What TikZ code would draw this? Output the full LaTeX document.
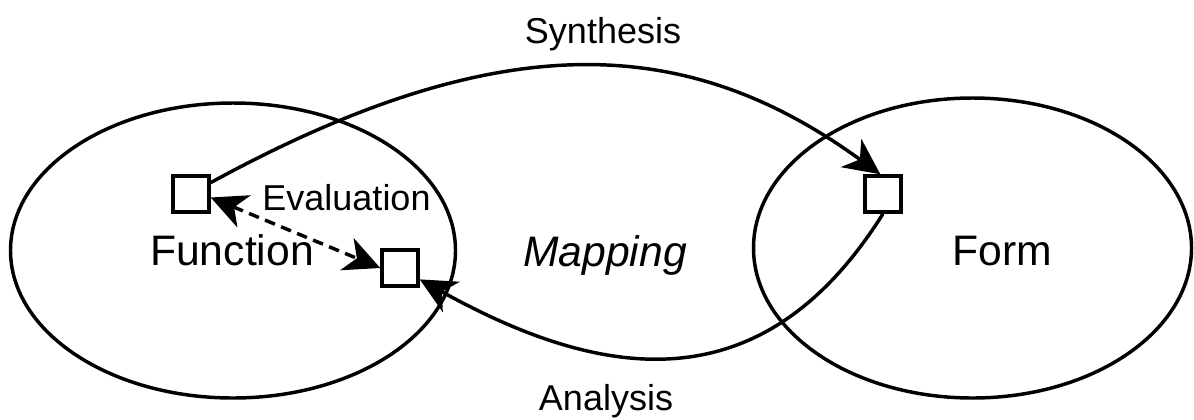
\documentclass[tikz,border=0pt]{standalone}
\usepackage{fontspec}
\setmainfont{Liberation Sans}
\usetikzlibrary{arrows.meta}

\tikzset{every picture/.style={line width=2.6pt}}
\tikzset{
  sqbox/.style={draw, fill=white, minimum size=27pt, inner sep=0pt},
  bigtxt/.style={anchor=base, inner sep=0pt, font=\fontsize{32}{38}\selectfont},
  smalltxt/.style={anchor=base, inner sep=0pt, font=\fontsize{27}{32}\selectfont},
  flowhead/.tip={Stealth[length=27pt,width=26pt,inset=8pt]},
  flowarrow/.style={-flowhead},
  evalarrow/.style={flowhead-flowhead, dash pattern=on 8pt off 5pt},
}

\begin{document}
\begin{tikzpicture}[x=0.75pt,y=0.75pt,yscale=-1,xscale=1]
\useasboundingbox (0,0) rectangle (1194,419);

%Shape: Ellipse (function space)
\draw (233,250.5) ellipse (222.5 and 147.5);
%Shape: Ellipse (form space)
\draw (972.5,248) ellipse (219 and 150);

%Shape: Square
\node [sqbox] (lsq) at (191,194) {};
%Shape: Square
\node [sqbox] (msq) at (400,268) {};
%Shape: Square
\node [sqbox] (rsq) at (883,194) {};

%Curve Lines
\draw [flowarrow] (lsq.30) .. controls (505,22) and (690,36) .. ([xshift=-2pt]rsq.north);
%Curve Lines
\draw [flowarrow] (rsq.south) .. controls (766,400) and (611,386) .. (msq.-30);
%Straight Lines
\draw [evalarrow] (lsq.-10) -- (msq.west);

% Text Node
\node [smalltxt] (synth) at (603,43) {Synthesis};
% Text Node
\node [smalltxt] (evalt) at (346.5,210) {Evaluation};
% Text Node
\node [bigtxt] (func) at (232,265) {Function};
% Text Node
\node [bigtxt] (mapp) at (605,266) {\itshape Mapping};
% Text Node
\node [bigtxt] (form) at (1002,265) {Form};
% Text Node
\node [smalltxt] (anal) at (606,410) {Analysis};

\end{tikzpicture}
\end{document}
